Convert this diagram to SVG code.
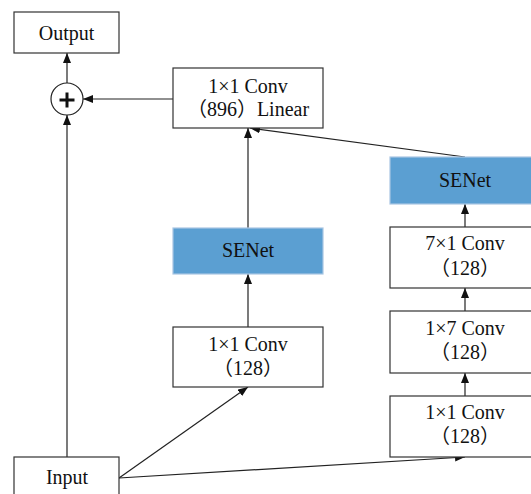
<svg xmlns="http://www.w3.org/2000/svg" width="531" height="494" viewBox="0 0 531 494">
  <style>
    .box { fill: #ffffff; stroke: #333333; stroke-width: 1.2; }
    .se { fill: #5b9fd2; stroke: #a9c6e3; stroke-width: 1.2; }
    .lbl { font-family: "Liberation Serif", "Noto Sans CJK SC", serif; font-size: 20px; fill: #111111; text-anchor: middle; }
    .edge { fill: none; stroke: #222222; stroke-width: 1.2; marker-end: url(#arrow); }
  </style>
  <defs>
    <marker id="arrow" markerUnits="userSpaceOnUse" viewBox="0 0 10 8" refX="10" refY="4" markerWidth="10" markerHeight="8" orient="auto">
      <path d="M0,0 L10,4 L0,8 Z" fill="#111111"/>
    </marker>
  </defs>
  <rect width="531" height="494" fill="#ffffff"/>

  <g id="connectors">
    <line class="edge" x1="67" y1="457" x2="67" y2="115"/>
    <line class="edge" x1="67" y1="83" x2="67" y2="53"/>
    <line class="edge" x1="173" y1="99" x2="83" y2="99"/>
    <line class="edge" x1="248" y1="228" x2="248" y2="128"/>
    <line class="edge" x1="465" y1="157" x2="250" y2="128"/>
    <line class="edge" x1="248" y1="327" x2="248" y2="274"/>
    <line class="edge" x1="119" y1="478" x2="248" y2="387"/>
    <line class="edge" x1="119" y1="478" x2="465" y2="457"/>
    <line class="edge" x1="465" y1="396" x2="465" y2="373"/>
    <line class="edge" x1="465" y1="311" x2="465" y2="288"/>
    <line class="edge" x1="465" y1="227" x2="465" y2="204"/>
  </g>

  <g id="output">
    <rect class="box" x="14" y="12" width="105" height="41"/>
    <text class="lbl" x="66.5" y="39.5">Output</text>
  </g>

  <g id="add">
    <circle cx="67" cy="99" r="16" fill="#ffffff" stroke="#222222" stroke-width="1.2"/>
    <line x1="59.5" y1="100" x2="74.5" y2="100" stroke="#111111" stroke-width="3"/>
    <line x1="67" y1="92.5" x2="67" y2="107.5" stroke="#111111" stroke-width="3"/>
  </g>

  <g id="conv-linear">
    <rect class="box" x="173" y="68" width="150" height="60"/>
    <text class="lbl" x="248" y="92.5">1×1 Conv</text>
    <text class="lbl" x="248" y="115.5">（896）Linear</text>
  </g>

  <g id="senet-a">
    <rect class="se" x="173" y="228" width="150" height="46"/>
    <text class="lbl" x="248" y="257">SENet</text>
  </g>

  <g id="conv-a">
    <rect class="box" x="173" y="327" width="150" height="60"/>
    <text class="lbl" x="248" y="351">1×1 Conv</text>
    <text class="lbl" x="248" y="375">（128）</text>
  </g>

  <g id="senet-b">
    <rect class="se" x="390" y="157" width="151" height="47"/>
    <text class="lbl" x="465" y="187">SENet</text>
  </g>

  <g id="conv-7x1">
    <rect class="box" x="390" y="227" width="151" height="61"/>
    <text class="lbl" x="465" y="250">7×1 Conv</text>
    <text class="lbl" x="465" y="275">（128）</text>
  </g>

  <g id="conv-1x7">
    <rect class="box" x="390" y="311" width="151" height="62"/>
    <text class="lbl" x="465" y="335">1×7 Conv</text>
    <text class="lbl" x="465" y="359">（128）</text>
  </g>

  <g id="conv-b">
    <rect class="box" x="390" y="396" width="151" height="61"/>
    <text class="lbl" x="465" y="419">1×1 Conv</text>
    <text class="lbl" x="465" y="443">（128）</text>
  </g>

  <g id="input">
    <rect class="box" x="14" y="457" width="105" height="45"/>
    <text class="lbl" x="67" y="484">Input</text>
  </g>
</svg>
